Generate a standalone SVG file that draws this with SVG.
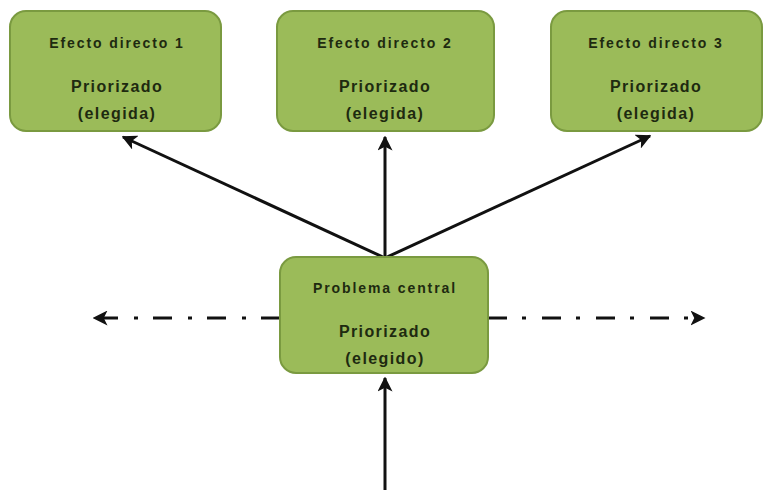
<svg xmlns="http://www.w3.org/2000/svg" width="769" height="493" viewBox="0 0 769 493">
<defs>
<style>
.box{fill:#9bbb59;stroke:#7a9a40;stroke-width:2}
.t{font-family:"Liberation Sans",Arial,sans-serif;fill:#1e2a10;text-anchor:middle;font-weight:bold}
.h{font-size:14px;letter-spacing:1.9px}
.p{font-size:16px;letter-spacing:1.4px}
.ln{stroke:#111;stroke-width:3;fill:none}
.dd{stroke:#111;stroke-width:3;fill:none;stroke-dasharray:19 15 4 16}
</style>
<marker id="ah" viewBox="0 0 10 10" refX="9" refY="5" markerWidth="5" markerHeight="5" orient="auto" markerUnits="strokeWidth">
<path d="M0,0 L10,5 L0,10 L2.5,5 z" fill="#111"/>
</marker>
</defs>
<rect width="769" height="493" fill="#fff"/>
<g id="connectors">
<line class="ln" x1="385" y1="258" x2="123" y2="137" marker-end="url(#ah)"/>
<line class="ln" x1="385" y1="258" x2="385" y2="137" marker-end="url(#ah)"/>
<line class="ln" x1="385" y1="258" x2="650" y2="136" marker-end="url(#ah)"/>
<line class="ln" x1="385" y1="490" x2="385" y2="378" marker-end="url(#ah)"/>
<line class="dd" x1="280" y1="318" x2="94" y2="318" marker-end="url(#ah)"/>
<line class="dd" x1="488" y1="318" x2="704" y2="318" marker-end="url(#ah)"/>
</g>
<g id="n1">
<rect class="box" x="10" y="11" width="211" height="120" rx="16"/>
<text class="t h" x="117" y="48">Efecto directo 1</text>
<text class="t p" x="117" y="92">Priorizado</text>
<text class="t p" x="117" y="119">(elegida)</text>
</g>
<g id="n2">
<rect class="box" x="277" y="11" width="217" height="120" rx="16"/>
<text class="t h" x="385" y="48">Efecto directo 2</text>
<text class="t p" x="385" y="92">Priorizado</text>
<text class="t p" x="385" y="119">(elegida)</text>
</g>
<g id="n3">
<rect class="box" x="551" y="11" width="211" height="120" rx="16"/>
<text class="t h" x="656" y="48">Efecto directo 3</text>
<text class="t p" x="656" y="92">Priorizado</text>
<text class="t p" x="656" y="119">(elegida)</text>
</g>
<g id="n4">
<rect class="box" x="280" y="257" width="208" height="116" rx="16"/>
<text class="t h" x="385" y="293">Problema central</text>
<text class="t p" x="385" y="337">Priorizado</text>
<text class="t p" x="385" y="364">(elegido)</text>
</g>
</svg>
